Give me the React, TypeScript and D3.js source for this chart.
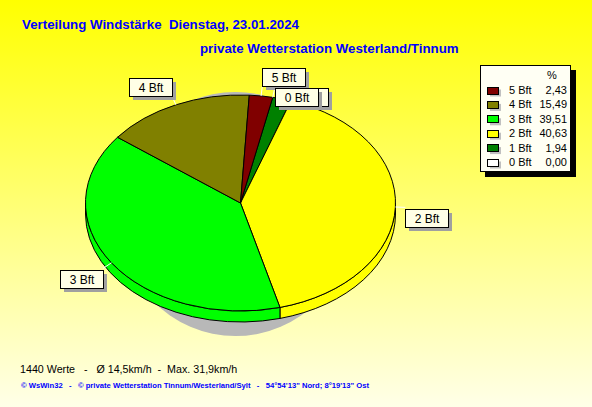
import * as d3 from "d3";

// Windstärke-Verteilung, Anteile in Prozent
const CATEGORIES = ["0 Bft", "1 Bft", "2 Bft", "3 Bft", "4 Bft", "5 Bft"];
const SHARES = [0.0, 1.94, 40.63, 39.51, 15.49, 2.43];
const COLORS = ["#ffffff", "#008000", "#ffff00", "#00ff00", "#808000", "#800000"];

const TITLE = "Verteilung Windstärke  Dienstag, 23.01.2024";
const SUBTITLE = "private Wetterstation Westerland/Tinnum";
const STATS = "1440 Werte   -   Ø 14,5km/h  -  Max. 31,9km/h";
const FOOTER =
  "© WsWin32   -   © private Wetterstation Tinnum/Westerland/Sylt   -   54°54'13\" Nord; 8°19'13\" Ost";

const W = 592;
const H = 407;
const CX = 240.5;
const CY = 203;
const RX = 155;
const RY = 108;
const DEPTH = 11;
const START = (12 * Math.PI) / 180;
const FONT = "'Liberation Sans', Arial, sans-serif";

const pt = (a: number, dr = 0, dy = 0): [number, number] => [
  CX + (RX + dr) * Math.sin(a),
  CY + dy - (RY + dr) * Math.cos(a),
];
const f = (p: [number, number]) => `${p[0].toFixed(2)},${p[1].toFixed(2)}`;

type Box = { x: number; y: number; w: number; h: number };

export default function App() {
  const data = CATEGORIES.map((name, i) => ({ name, value: SHARES[i], color: COLORS[i], i }));
  const arcs = d3
    .pie<(typeof data)[0]>()
    .sort(null)
    .value((d) => d.value)
    .startAngle(START)
    .endAngle(START + 2 * Math.PI)(data);

  // top faces
  const topPath = (a0: number, a1: number) =>
    `M${CX},${CY} L${f(pt(a0))} A${RX},${RY} 0 ${a1 - a0 > Math.PI ? 1 : 0} 1 ${f(pt(a1))} Z`;

  // front walls (visible between 90° and 270°)
  const sides = arcs
    .map((a) => {
      const b0 = Math.max(a.startAngle, Math.PI / 2);
      const b1 = Math.min(a.endAngle, (3 * Math.PI) / 2);
      if (b1 <= b0) return null;
      const d =
        `M${f(pt(b0))} A${RX},${RY} 0 0 1 ${f(pt(b1))} ` +
        `L${f(pt(b1, 0, DEPTH))} A${RX},${RY} 0 0 0 ${f(pt(b0, 0, DEPTH))} Z`;
      return { d, color: a.data.color, key: a.data.name };
    })
    .filter(Boolean) as { d: string; color: string; key: string }[];

  // callout labels, placed in order 5..0 and pushed down on collision
  const BW = 43;
  const BH = 18;
  const placed: Box[] = [];
  const labels = [...arcs].reverse().map((a) => {
    const mid = (a.startAngle + a.endAngle) / 2;
    const p = pt(mid);
    const l = pt(mid, 10);
    const s = Math.sin(mid);
    const c = Math.cos(mid);
    const x = Math.round(s >= 0 ? l[0] : l[0] - BW);
    let y = Math.round(c > 0 ? l[1] - BH : l[1] + 2);
    const hit = placed.find((b) => x < b.x + b.w && x + BW > b.x && y < b.y + b.h && y + BH > b.y);
    if (hit) y = hit.y + hit.h + 2;
    const box = { x, y, w: BW, h: BH };
    placed.push(box);
    return { box, p, l, name: a.data.name };
  });

  // legend
  const legendOrder = [...data].reverse();
  const rowY = d3
    .scalePoint<string>()
    .domain(legendOrder.map((d) => d.name))
    .range([90, 162]);
  const fmt = (v: number) => v.toFixed(2).replace(".", ",");

  return (
    <svg
      width={W}
      height={H}
      style={{ position: "fixed", left: 0, top: 0 }}
      fontFamily={FONT}
    >
      <defs>
        <linearGradient id="bg" x1="0" y1="0" x2="0" y2="1">
          <stop offset="0" stopColor="#ffff00" />
          <stop offset="1" stopColor="#ffffe8" />
        </linearGradient>
      </defs>
      <rect width={W} height={H} fill="url(#bg)" />

      <text x={22} y={29} fill="#0000ff" fontSize={13.3} fontWeight="bold" style={{ whiteSpace: "pre" }}>
        {TITLE}
      </text>
      <text x={200} y={53} fill="#0000ff" fontSize={13.3} fontWeight="bold">
        {SUBTITLE}
      </text>

      {/* shadow */}
      <ellipse cx={CX - 5} cy={CY + DEPTH} rx={118} ry={122} fill="#b8b8b8" />

      {sides.map((s) => (
        <path key={`side-${s.key}`} d={s.d} fill={s.color} stroke="#000" strokeWidth={1} />
      ))}
      {arcs
        .filter((a) => a.endAngle > a.startAngle)
        .map((a) => (
          <path
            key={a.data.name}
            d={topPath(a.startAngle, a.endAngle)}
            fill={a.data.color}
            stroke="#000"
            strokeWidth={1}
            strokeLinejoin="round"
          />
        ))}

      {labels.map(({ p, l, name }) => (
        <line key={`lead-${name}`} x1={p[0]} y1={p[1]} x2={l[0]} y2={l[1]} stroke="#fff" strokeWidth={1} />
      ))}
      {labels.map(({ box, name }) => (
        <g key={`lab-${name}`}>
          <rect x={box.x + 4} y={box.y + 4} width={box.w} height={box.h} fill="#a0a0a0" />
          <rect
            x={box.x + 0.5}
            y={box.y + 0.5}
            width={box.w}
            height={box.h}
            fill="#ffffe6"
            stroke="#000"
            strokeWidth={1}
          />
          <text
            x={box.x + box.w / 2 + 0.5}
            y={box.y + box.h / 2 + 5}
            textAnchor="middle"
            fontSize={12}
            fill="#000"
          >
            {name}
          </text>
        </g>
      ))}

      {/* legend */}
      <rect x={485} y={70} width={91} height={107} fill="#000" />
      <rect x={480.5} y={65.5} width={90} height={106} fill="#fffff4" stroke="#000" strokeWidth={1} />
      <text x={552} y={79} textAnchor="middle" fontSize={11} fill="#000">
        %
      </text>
      {legendOrder.map((d) => {
        const y = rowY(d.name)!;
        return (
          <g key={`leg-${d.name}`}>
            <rect x={490} y={y - 0.5} width={11} height={7} fill="#c0c0c0" />
            <rect
              x={487.5}
              y={Math.round(y - 3.5) + 0.5}
              width={11}
              height={7}
              fill={d.color}
              stroke="#000"
              strokeWidth={1}
            />
            <text x={509} y={y + 4} fontSize={11} fill="#000">
              {d.name}
            </text>
            <text x={567} y={y + 4} fontSize={11} fill="#000" textAnchor="end">
              {fmt(d.value)}
            </text>
          </g>
        );
      })}

      <text x={20} y={373} fontSize={10.7} fill="#000" style={{ whiteSpace: "pre" }}>
        {STATS}
      </text>
      <text
        x={21}
        y={388}
        fontSize={8}
        fontWeight="bold"
        fill="#0000ff"
        textLength={348}
        lengthAdjust="spacingAndGlyphs"
        style={{ whiteSpace: "pre" }}
      >
        {FOOTER}
      </text>
    </svg>
  );
}
